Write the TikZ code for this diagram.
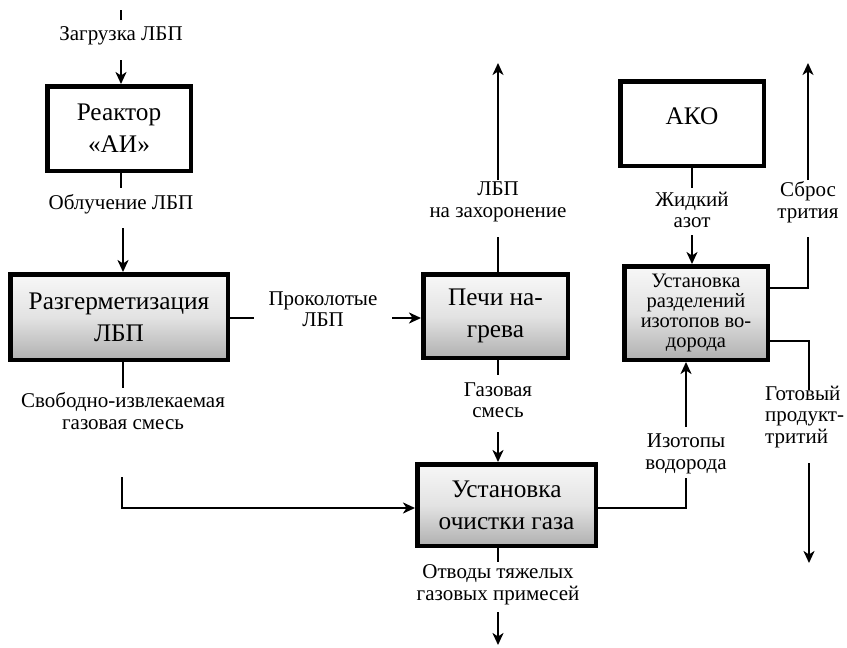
\documentclass[tikz,border=0pt]{standalone}
\usepackage{fontspec}
\newfontfamily\tms{Liberation Serif}
\usetikzlibrary{arrows.meta,calc}
\tikzset{
  px/.style={x=1pt,y=-1pt},
  boxframe/.style={draw=black,line width=4.5pt,inner sep=0pt,align=center,
     font=\tms\fontsize{25.3}{32}\selectfont},
  plainbox/.style={boxframe,fill=white},
  shadebox/.style={boxframe,top color=gray!6,bottom color=gray!62,middle color=gray!22},
  lbl/.style={align=center,inner sep=0pt,font=\tms\fontsize{21}{21.5}\selectfont},
  thin/.style={line width=1.8pt},
  thick/.style={line width=2.7pt},
  arr/.style={-{Stealth[length=12pt,width=11pt,inset=3.5pt]}},
}
\begin{document}
\begin{tikzpicture}[px]
\useasboundingbox (0,0) rectangle (847,648);

% boxes
\node[plainbox,minimum width=143.5pt,minimum height=84.5pt] (R) at (119,128.5) {Реактор\\«АИ»};
\node[shadebox,minimum width=217.5pt,minimum height=85.5pt] (D) at (119,317) {Разгерметизация\\ЛБП};
\node[shadebox,minimum width=144.5pt,minimum height=83.5pt] (P) at (495.5,316) {Печи на-\\грева};
\node[shadebox,minimum width=178.5pt,minimum height=81.5pt] (G) at (506.5,505) {Установка\\очистки газа};
\node[plainbox,minimum width=143.5pt,minimum height=84.5pt] (A) at (692,123.5) {\raisebox{14pt}{АКО}};
\node[shadebox,minimum width=143.5pt,minimum height=93.5pt,font=\tms\fontsize{20.5}{19.8}\selectfont] (S) at (696,313)
  {Установка\\разделений\\изотопов во-\\дорода};

% labels
\node[lbl] (l1) at (121,36) {Загрузка ЛБП};
\node[lbl] (l2) at (121,204) {Облучение ЛБП};
\node[lbl] (l3) at (323,309) {Проколотые\\ЛБП};
\node[lbl] (l4) at (123,411) {Свободно-извлекаемая\\газовая смесь};
\node[lbl] (l5) at (498,202) {ЛБП\\на захоронение};
\node[lbl] (l6) at (498,400) {Газовая\\смесь};
\node[lbl] (l7) at (498,585) {Отводы тяжелых\\газовых примесей};
\node[lbl] (l8) at (692,210) {Жидкий\\азот};
\node[lbl] (l9) at (808,202) {Сброс\\трития};
\node[lbl] (l10) at (686,454) {Изотопы\\водорода};
\node[lbl,align=left,anchor=west] (l11) at (765,417) {Готовый\\продукт-\\тритий};

% coordinates
\coordinate (a0) at (121,10);
\coordinate (a1) at (121,20);
\coordinate (a2) at (121,60);
\coordinate (a3) at (121,188);
\coordinate (a4) at (123,228);
\coordinate (b1) at (254,318);
\coordinate (b2) at (392,318);
\coordinate (c1) at (123,388);
\coordinate (c2) at (122,477);
\coordinate (c3) at (122,508);
\coordinate (d1) at (498,237);
\coordinate (d2) at (498,180);
\coordinate (d3) at (498,63);
\coordinate (e1) at (498,375);
\coordinate (e2) at (498,432);
\coordinate (f1) at (498,562);
\coordinate (f2) at (498,612);
\coordinate (f3) at (498,645);
\coordinate (g1) at (692,188);
\coordinate (g2) at (692,235);
\coordinate (h1) at (808,237);
\coordinate (h2) at (808,180);
\coordinate (h3) at (808,63);
\coordinate (h0) at (808,288);
\coordinate (k0) at (809,341);
\coordinate (k1) at (809,390);
\coordinate (k2) at (809,463);
\coordinate (k3) at (809,563);
\coordinate (m0) at (686,508);
\coordinate (m1) at (686,478);
\coordinate (m2) at (686,427);

% connectors
\draw[thick] (a0) -- (a1);
\draw[thick,arr] (a2) -- (a2 |- R.north);
\draw[thick] (a3 |- R.south) -- (a3);
\draw[thick,arr] (a4) -- (a4 |- D.north);
\draw[thick] (D.east |- b1) -- (b1);
\draw[thick,arr] (b2) -- (b2 -| P.west);
\draw[thick] (c1 |- D.south) -- (c1);
\draw[thick,arr] (c2) -- (c3) -- (c3 -| G.west);
\draw[thin] (d1 |- P.north) -- (d1);
\draw[thin,arr] (d2) -- (d3);
\draw[thick] (e1 |- P.south) -- (e1);
\draw[thick,arr] (e2) -- (e2 |- G.north);
\draw[thick] (f1 |- G.south) -- (f1);
\draw[thick,arr] (f2) -- (f3);
\draw[thin] (g1 |- A.south) -- (g1);
\draw[thin,arr] (g2) -- (g2 |- S.north);
\draw[thin] (S.east |- h0) -- (h0) -- (h1);
\draw[thin,arr] (h2) -- (h3);
\draw[thick] (S.east |- k0) -- (k0) -- (k1);
\draw[thick,arr] (k2) -- (k3);
\draw[thick] (G.east |- m0) -- (m0) -- (m1);
\draw[thick,arr] (m2) -- (m2 |- S.south);
\end{tikzpicture}
\end{document}
